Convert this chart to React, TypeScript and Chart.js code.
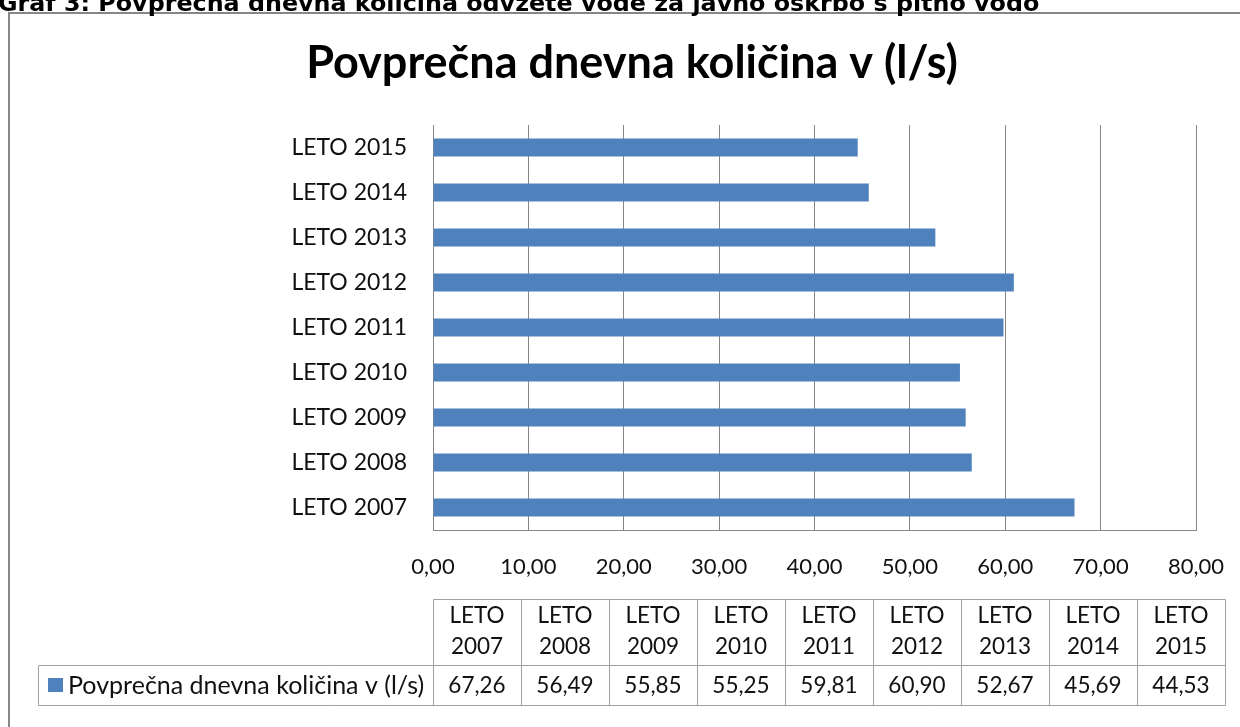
import React, { useEffect, useRef } from 'react';
import { Chart, registerables } from 'chart.js';

Chart.register(...registerables);

const heading = 'Graf 3: Povprečna dnevna količina odvzete vode za javno oskrbo s pitno vodo';
const chartTitle = 'Povprečna dnevna količina v (l/s)';
const seriesName = 'Povprečna dnevna količina v (l/s)';
const categories = ['LETO 2007', 'LETO 2008', 'LETO 2009', 'LETO 2010', 'LETO 2011', 'LETO 2012', 'LETO 2013', 'LETO 2014', 'LETO 2015'];
const values = [67.26, 56.49, 55.85, 55.25, 59.81, 60.9, 52.67, 45.69, 44.53];
const xMin = 0;
const xMax = 80;
const xStep = 10;

const BAR = '#4f81bd';
const GRID = '#868686';
const TABLE_LINE = '#a0a0a0';
const TEXT = '#111111';
const FONT = 'Lato';

const fmt = (v: number) => v.toFixed(2).replace('.', ',');

const decorPlugin = {
  id: 'decor',
  afterDraw(chart: any) {
    const ctx = chart.ctx as CanvasRenderingContext2D;
    ctx.save();
    // outer frame
    ctx.strokeStyle = GRID;
    ctx.lineWidth = 2;
    ctx.strokeRect(9, 13, 1300, 800);

    // heading above the frame
    ctx.fillStyle = '#000';
    ctx.font = 'bold 23.8px "DejaVu Sans"';
    ctx.textAlign = 'left';
    ctx.textBaseline = 'alphabetic';
    ctx.fillText(heading, -2, 11);

    // chart title
    ctx.font = `bold 45px ${FONT}`;
    ctx.textAlign = 'center';
    ctx.fillText(chartTitle, 632, 78);

    // data table
    const tblLeft = 433;
    const colW = 88;
    const hdrTop = 599.5;
    const rowTop = 665.5;
    const rowBot = 705.5;
    const legLeft = 38.5;
    const n = categories.length;
    const tblRight = tblLeft + colW * n;
    ctx.strokeStyle = TABLE_LINE;
    ctx.lineWidth = 1;
    ctx.beginPath();
    ctx.moveTo(tblLeft + 0.5, hdrTop);
    ctx.lineTo(tblRight + 0.5, hdrTop);
    ctx.moveTo(legLeft, rowTop);
    ctx.lineTo(tblRight + 0.5, rowTop);
    ctx.moveTo(legLeft, rowBot);
    ctx.lineTo(tblRight + 0.5, rowBot);
    ctx.moveTo(legLeft, rowTop);
    ctx.lineTo(legLeft, rowBot);
    for (let i = 0; i <= n; i++) {
      const x = tblLeft + colW * i + 0.5;
      ctx.moveTo(x, hdrTop);
      ctx.lineTo(x, rowBot);
    }
    ctx.stroke();

    ctx.fillStyle = TEXT;
    ctx.font = `22.5px ${FONT}`;
    ctx.textAlign = 'center';
    ctx.textBaseline = 'middle';
    categories.forEach((c, i) => {
      const cx = tblLeft + colW * i + colW / 2;
      const parts = c.split(' ');
      ctx.fillText(parts[0], cx, 616);
      ctx.fillText(parts[1], cx, 647);
      ctx.fillText(fmt(values[i]), cx, 686);
    });
    // legend key
    ctx.fillStyle = BAR;
    ctx.fillRect(48, 678, 15, 14);
    ctx.fillStyle = TEXT;
    ctx.textAlign = 'left';
    ctx.font = `25px ${FONT}`;
    ctx.fillText(seriesName, 68, 686);
    ctx.restore();
  },
};

export default function App() {
  const ref = useRef<HTMLCanvasElement | null>(null);
  useEffect(() => {
    document.body.style.margin = '0';
    const canvas = ref.current;
    if (!canvas) return;
    const chart = new Chart(canvas, {
      type: 'bar',
      data: {
        labels: categories,
        datasets: [
          {
            label: seriesName,
            data: values,
            backgroundColor: BAR,
            borderWidth: 0,
            categoryPercentage: 1,
            barPercentage: 0.4,
          },
        ],
      },
      options: {
        indexAxis: 'y',
        responsive: false,
        animation: false,
        devicePixelRatio: 1,
        layout: { padding: { left: 0, right: 44, top: 125, bottom: 137 } },
        plugins: {
          legend: { display: false },
          title: { display: false },
          tooltip: { enabled: false },
        },
        scales: {
          x: {
            min: xMin,
            max: xMax,
            ticks: {
              stepSize: xStep,
              callback: (v: any) => fmt(Number(v)),
              color: TEXT,
              font: { family: FONT, size: 22 },
              padding: 24,
              maxRotation: 0,
            },
            grid: { color: GRID, lineWidth: 1, drawTicks: false },
            border: { display: true, color: GRID, width: 1 },
            afterFit: (s: any) => {
              s.height = 60;
              s.paddingLeft = 0;
              s.paddingRight = 0;
            },
          },
          y: {
            reverse: true,
            ticks: {
              color: TEXT,
              font: { family: FONT, size: 23 },
              padding: 18,
            },
            grid: { display: false },
            border: { display: true, color: GRID, width: 1 },
            afterFit: (s: any) => {
              s.width = 433;
            },
          },
        },
      },
      plugins: [decorPlugin],
    });
    return () => chart.destroy();
  }, []);
  return (
    <div style={{ position: 'fixed', left: 0, top: 0, width: 1240, height: 727, background: '#fff' }}>
      <canvas ref={ref} width={1240} height={727} style={{ width: 1240, height: 727, display: 'block' }} />
    </div>
  );
}
